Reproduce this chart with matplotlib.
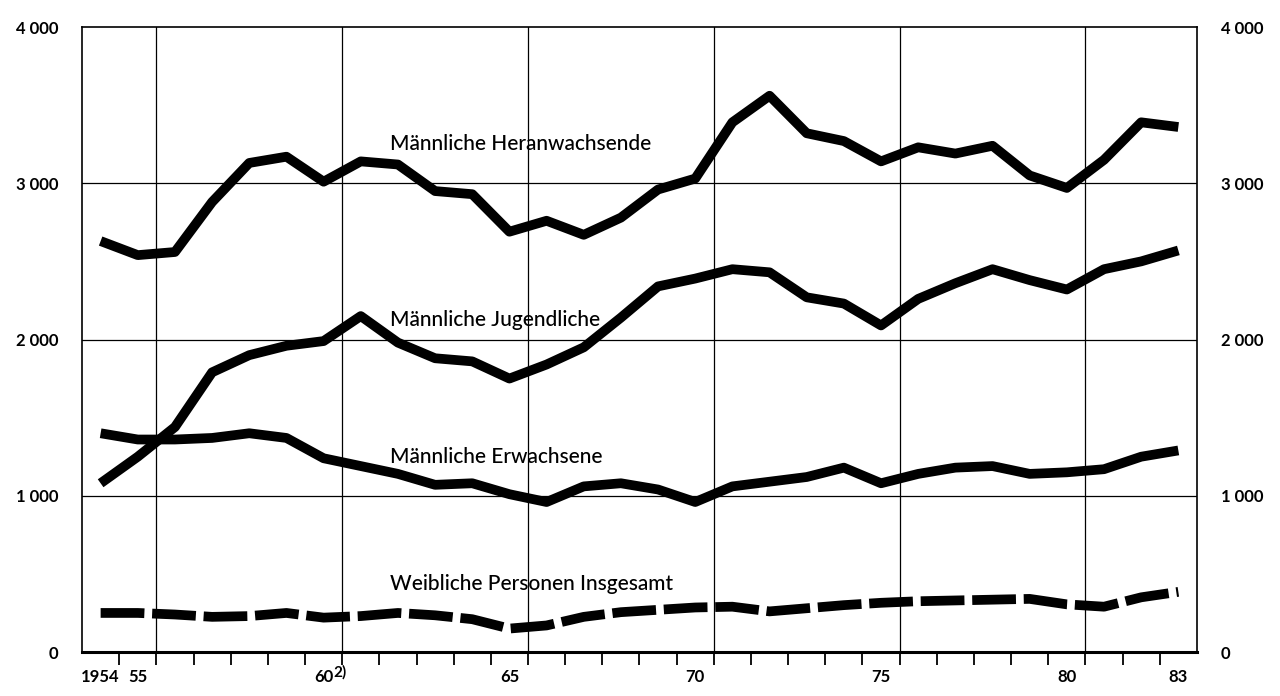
import matplotlib
matplotlib.use('Agg')
import matplotlib.pyplot as plt
import matplotlib.transforms as mtransforms
import numpy as np

plt.rcParams['font.family'] = ['Lato', 'DejaVu Sans']

# Jahre 1954 bis 1983
years = np.arange(1954, 1984)

# Männliche Heranwachsende
heran = [2630, 2540, 2560, 2880, 3130, 3170, 3010, 3140, 3120, 2950,
         2930, 2690, 2760, 2670, 2780, 2960, 3030, 3390, 3560, 3320,
         3270, 3140, 3230, 3190, 3240, 3050, 2970, 3150, 3390, 3360]

# Männliche Jugendliche
jugend = [1080, 1250, 1440, 1790, 1900, 1960, 1990, 2150, 1980, 1880,
          1860, 1750, 1840, 1950, 2140, 2340, 2390, 2450, 2430, 2270,
          2230, 2090, 2260, 2360, 2450, 2380, 2320, 2450, 2500, 2570]

# Männliche Erwachsene
erw = [1400, 1360, 1360, 1370, 1400, 1370, 1240, 1190, 1140, 1070,
       1080, 1010, 960, 1060, 1080, 1040, 960, 1060, 1090, 1120,
       1180, 1080, 1140, 1180, 1190, 1140, 1150, 1170, 1250, 1290]

# Weibliche Personen insgesamt
weib = [250, 250, 240, 225, 230, 250, 220, 230, 250, 235,
        210, 150, 170, 225, 255, 270, 285, 290, 260, 280,
        300, 315, 325, 330, 335, 340, 305, 290, 350, 385]

series_labels = ['Männliche Heranwachsende', 'Männliche Jugendliche',
                 'Männliche Erwachsene', 'Weibliche Personen Insgesamt']
label_x = [1962.3, 1962.3, 1962.3, 1962.3]
label_y = [3250, 2125, 1250, 435]

xlabel_years = [1954, 1955, 1960, 1965, 1970, 1975, 1980, 1983]
xlabel_text = ['1954', '55', '60', '65', '70', '75', '80', '83']
grid_years = [1956, 1961, 1966, 1971, 1976, 1981]
yticks = [0, 1000, 2000, 3000, 4000]
ytick_text = ['0', '1 000', '2 000', '3 000', '4 000']


def main():

    fig = plt.figure(figsize=(12.8, 6.96), dpi=100)
    ax = fig.add_axes([0.0641, 0.0632, 0.871, 0.898])

    x = years + 0.5

    # Thick solid lines
    for vals in [heran, jugend, erw]:
        ax.plot(x, vals, color='black', lw=7, solid_capstyle='butt',
                solid_joinstyle='round', zorder=3)

    # Dashed line for women
    ax.plot(x, weib, color='black', lw=7, dashes=(4.5, 0.8),
            dash_capstyle='butt', zorder=3)

    # Series labels
    for txt, lx, ly in zip(series_labels, label_x, label_y):
        ax.text(lx, ly, txt, fontsize=15, fontweight='medium',
                va='center', ha='left', zorder=4)

    ax.set_xlim(1954, 1984)
    ax.set_ylim(0, 4000)

    # Grid
    for g in grid_years:
        ax.axvline(g, color='black', lw=0.9, zorder=1)
    for v in yticks[1:-1]:
        ax.axhline(v, color='black', lw=0.9, zorder=1)

    # X ticks: marks at year boundaries, labels at mid-year
    ax.set_xticks(np.arange(1955, 1984))
    ax.set_xticklabels([])
    ax.tick_params(axis='x', which='major', length=9, width=1.3,
                   direction='out', color='black')
    ax.set_xticks(np.array(xlabel_years) + 0.5, minor=True)
    ax.set_xticklabels(xlabel_text, minor=True, fontsize=12,
                       fontweight='bold')
    ax.tick_params(axis='x', which='minor', length=0, pad=12)

    # footnote mark next to "60"
    trans = mtransforms.blended_transform_factory(ax.transData,
                                                  ax.transAxes)
    ax.text(1960.75, -0.033, '2)', fontsize=11, fontweight='bold',
            ha='left', va='center', transform=trans)

    # Y ticks on both sides
    ax.set_yticks(yticks)
    ax.set_yticklabels(ytick_text, fontsize=12, fontweight='bold')
    ax.tick_params(axis='y', length=0, pad=17, labelright=True)

    for side in ['left', 'right', 'top']:
        ax.spines[side].set_linewidth(1.2)
    ax.spines['bottom'].set_linewidth(2.2)

    fig.savefig('out.png', dpi=100)
    plt.close()


if __name__ == "__main__":
    main()
